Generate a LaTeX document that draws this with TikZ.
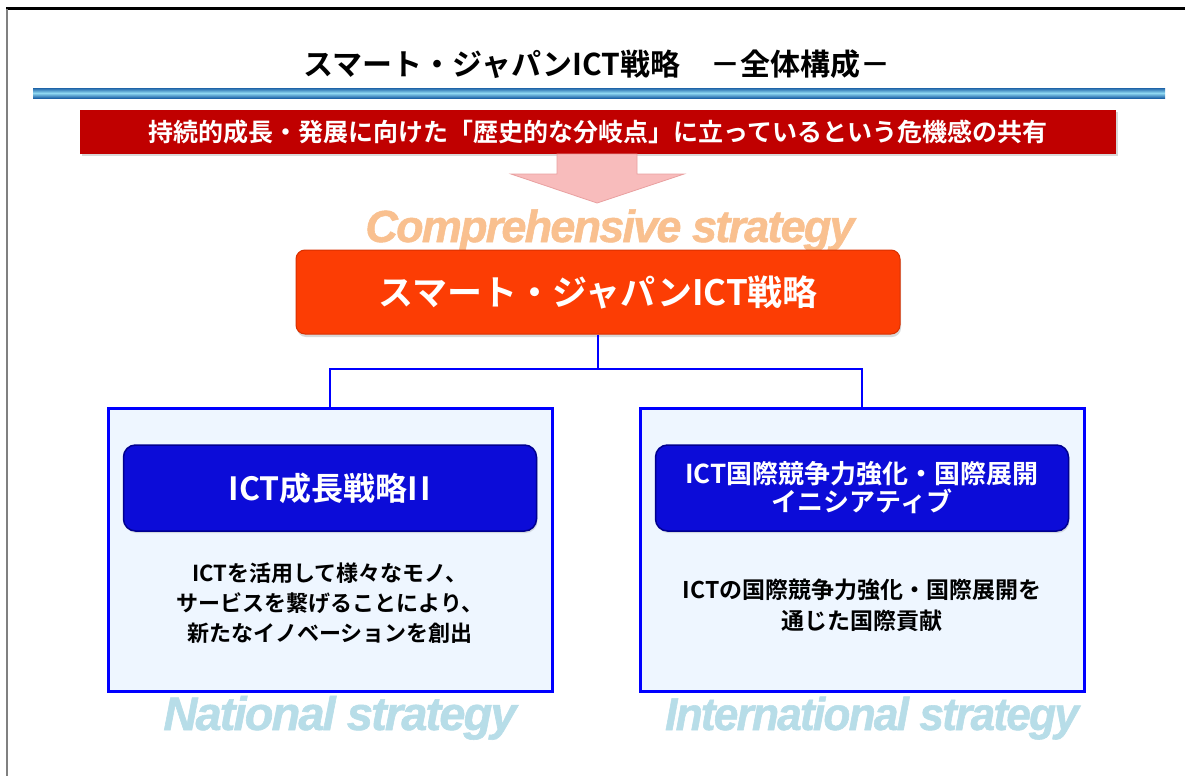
\documentclass[tikz,border=0pt]{standalone}
\usepackage{fontspec}
\usepackage{graphicx}
\usetikzlibrary{shadows}
\newfontfamily\jp{Noto Sans CJK JP Bold}
\newfontfamily\en{Liberation Sans}[BoldItalicFeatures={FakeBold=1.2, LetterSpace=-4}]
\definecolor{bannerred}{HTML}{C00000}
\definecolor{mainorange}{HTML}{FC3D04}
\definecolor{mainedge}{HTML}{D83000}
\definecolor{innerblue}{HTML}{0C0CD8}
\definecolor{inneredge}{HTML}{000090}
\definecolor{boxfill}{HTML}{EEF6FF}
\definecolor{connblue}{HTML}{0000FF}
\definecolor{arrowpink}{HTML}{F8BCBC}
\definecolor{arrowedge}{HTML}{E9A0A0}
\definecolor{labelorange}{HTML}{F9C08F}
\definecolor{labelblue}{HTML}{B7DDE8}
\definecolor{bardark}{HTML}{1F64A8}
\definecolor{barlight}{HTML}{8FD8F2}
\tikzset{
  jptext/.style={font=\jp, inner sep=0pt},
  outerbox/.style={draw=connblue, line width=3pt, fill=boxfill, minimum width=444, minimum height=283, inner sep=0pt},
  innerbox/.style={draw=inneredge, line width=1.5pt, fill=innerblue, rounded corners=12pt, minimum width=413, minimum height=86, text=white, align=center, font=\jp, drop shadow={opacity=0.25, shadow xshift=1pt, shadow yshift=-2pt}},
  bodytext/.style={font=\jp, align=center, text=black, inner sep=0pt},
  conn/.style={draw=connblue, line width=2pt},
  engl/.style={font=\en\bfseries\itshape, inner sep=0pt, anchor=base},
}
\begin{document}
\begin{tikzpicture}[x=1pt,y=-1pt]
\useasboundingbox (0,0) rectangle (1185,776);
\fill[white] (0,0) rectangle (1185,776);
% frame lines
\draw[black, line width=3pt] (6,9) -- (1185,9);
\draw[gray, line width=1.5pt] (7,9) -- (7,776);
% title
\node[jptext, font=\jp\fontsize{30}{36}\selectfont] (title) at (597,64) {スマート・ジャパンICT戦略　－全体構成－};
% blue bar
\shade[top color=bardark, bottom color=bardark, middle color=barlight] (33,88) rectangle (1165,98);
% banner
\node[fill=bannerred, text=white, minimum width=1036, minimum height=44, inner sep=0pt,
      font=\jp\fontsize{25}{30}\selectfont, drop shadow={opacity=0.3, shadow xshift=2pt, shadow yshift=-2pt}]
  (banner) at (598,132) {持続的成長・発展に向けた「歴史的な分岐点」に立っているという危機感の共有};
% pink arrow
\filldraw[fill=arrowpink, draw=arrowedge, line width=0.8pt]
  (557,154) -- (637,154) -- (637,174) -- (684,174) -- (597,203) -- (511,174) -- (557,174) -- cycle;
% comprehensive label
\node[engl, text=labelorange, font=\en\bfseries\itshape\fontsize{45}{50}\selectfont] (comp) at (610,242)
  {\scalebox{1.0}[1]{Comprehensive strategy}};
% main box
\node[fill=mainorange, draw=mainedge, line width=1pt, rounded corners=9pt, minimum width=604, minimum height=84,
      text=white, font=\jp\fontsize{35}{40}\selectfont, inner sep=0pt,
      drop shadow={opacity=0.3, shadow xshift=1pt, shadow yshift=-3pt}]
  (main) at (598,292) {スマート・ジャパンICT戦略};
% side boxes
\node[outerbox] (left) at (330,550) {};
\node[outerbox] (right) at (862,550) {};
% connectors
\draw[conn] (main.south) -- ++(0,34) coordinate (junc) -| (left.north);
\draw[conn] (junc) -| (right.north);
% inner blue boxes
\node[innerbox, font=\jp\fontsize{32}{36}\selectfont] (lt) at (330,488) {ICT成長戦略I\kern2pt I};
\node[innerbox, font=\jp\fontsize{26}{28}\selectfont] (rt) at (862,488) {ICT国際競争力強化・国際展開\\イニシアティブ};
% body texts
\node[bodytext, font=\jp\fontsize{22}{30}\selectfont] (lb) at (330,603)
  {ICTを活用して様々なモノ、\\サービスを繋げることにより、\\新たなイノベーションを創出};
\node[bodytext, font=\jp\fontsize{23}{31}\selectfont] (rb) at (862,605)
  {ICTの国際競争力強化・国際展開を\\通じた国際貢献};
% strategy labels
\node[engl, text=labelblue, font=\en\bfseries\itshape\fontsize{47}{50}\selectfont] (natl) at (340,730)
  {\scalebox{1.0}[1]{National strategy}};
\node[engl, text=labelblue, font=\en\bfseries\itshape\fontsize{46}{50}\selectfont] (intl) at (872,730)
  {\scalebox{0.96}[1]{International strategy}};
\end{tikzpicture}
\end{document}
